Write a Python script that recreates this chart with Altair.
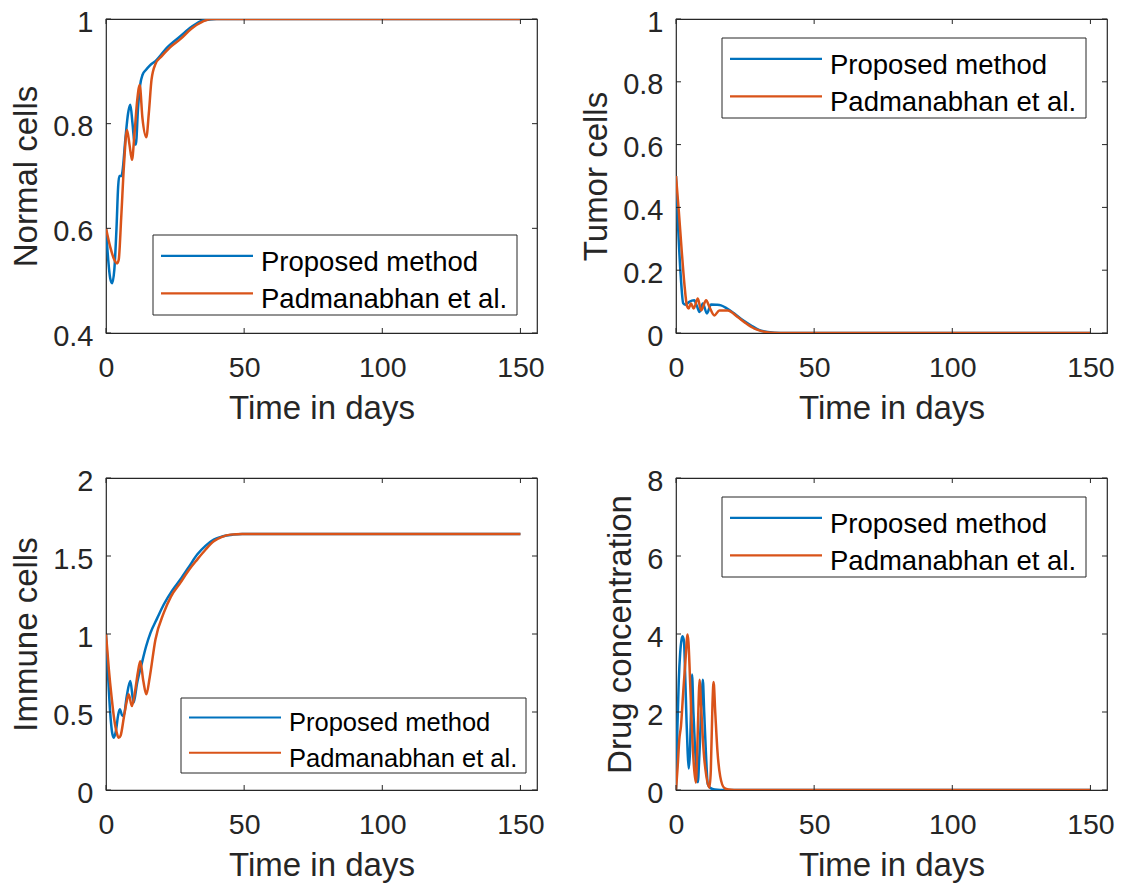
import altair as alt
import pandas as pd

FONT = "Liberation Sans"
AX = "#262626"
SERIES = ["Proposed method", "Padmanabhan et al."]
COLORS = ["#0072BD", "#D95319"]

X_TICKS = [0, 50, 100, 150]
X_DOMAIN = [0, 156]

# ---- Normal cells ----
nb_t = [0, 0.8, 1.5, 2.2, 3.0, 3.8, 4.4, 4.8, 5.6, 6.0, 7.0, 8.0, 8.8, 9.6, 10.4, 10.8, 11.6, 12.4, 13.2, 14.5, 16, 18, 22, 26.9, 31, 35, 40, 150]
nb_v = [0.60, 0.54, 0.505, 0.495, 0.52, 0.60, 0.68, 0.70, 0.70, 0.71, 0.77, 0.82, 0.836, 0.80, 0.76, 0.76, 0.83, 0.875, 0.893, 0.903, 0.912, 0.92, 0.945, 0.967, 0.985, 0.997, 1.0, 1.0]
no_t = [0, 1.5, 3.0, 4.0, 4.6, 5.5, 6.5, 7.6, 8.5, 9.4, 10.3, 11.3, 12.2, 13.2, 14.6, 15.5, 16.5, 17.9, 20, 23, 27, 31, 35, 38, 150]
no_v = [0.60, 0.565, 0.54, 0.533, 0.54, 0.62, 0.72, 0.788, 0.76, 0.731, 0.78, 0.845, 0.874, 0.81, 0.774, 0.82, 0.885, 0.914, 0.928, 0.945, 0.962, 0.982, 0.995, 1.0, 1.0]

# ---- Tumor cells ----
tb_t = [0, 0.8, 1.8, 2.6, 3.5, 4.8, 6.6, 7.6, 8.5, 9.7, 11.2, 12.7, 14.5, 16.3, 18.5, 21.1, 24, 27.2, 30, 33.2, 38, 150]
tb_v = [0.5, 0.33, 0.17, 0.095, 0.09, 0.099, 0.104, 0.085, 0.067, 0.094, 0.062, 0.091, 0.09, 0.088, 0.078, 0.062, 0.042, 0.024, 0.01, 0.003, 0.0, 0.0]
to_t = [0, 1, 2, 3, 4, 4.6, 5.4, 6.4, 7.9, 9.1, 10.9, 12, 13.9, 15.7, 18.7, 22.3, 25, 28.4, 31, 34.4, 40, 150]
to_v = [0.5, 0.39, 0.27, 0.16, 0.085, 0.078, 0.094, 0.078, 0.11, 0.072, 0.104, 0.085, 0.056, 0.072, 0.072, 0.051, 0.033, 0.014, 0.006, 0.001, 0.0, 0.0]

# ---- Immune cells ----
ib_t = [0, 0.7, 1.5, 2.2, 2.8, 3.6, 4.4, 5.0, 5.8, 6.4, 7.5, 8.8, 10, 11.2, 13, 14.5, 16.1, 18.5, 20.9, 24, 26.9, 30, 33, 36, 39, 42, 46, 49.3, 150]
ib_v = [1.0, 0.75, 0.5, 0.37, 0.335, 0.38, 0.48, 0.517, 0.48, 0.474, 0.6, 0.698, 0.559, 0.68, 0.815, 0.92, 1.007, 1.10, 1.189, 1.28, 1.349, 1.43, 1.509, 1.565, 1.605, 1.625, 1.637, 1.641, 1.641]
io_t = [0, 1, 2, 3, 4, 4.6, 5.3, 6.5, 7.4, 8.2, 9.4, 10.5, 11.5, 12.4, 13.5, 14.6, 15.8, 17.9, 20.9, 23.5, 26.9, 30, 33, 36, 39, 42, 45, 49.3, 150]
io_v = [1.0, 0.78, 0.6, 0.45, 0.36, 0.335, 0.35, 0.47, 0.56, 0.613, 0.538, 0.63, 0.75, 0.826, 0.70, 0.613, 0.72, 0.965, 1.135, 1.24, 1.328, 1.41, 1.477, 1.54, 1.594, 1.623, 1.637, 1.641, 1.641]

# ---- Drug concentration ----
db_t = [0, 0.5, 1.0, 1.5, 2.0, 2.4, 2.9, 3.3, 3.8, 4.2, 4.6, 5.0, 5.6, 5.8, 6.3, 6.8, 7.4, 7.9, 8.4, 9.4, 9.7, 10.2, 10.8, 11.5, 12.5, 14, 16, 150]
db_v = [0, 1.6, 2.8, 3.5, 3.85, 3.94, 3.8, 3.0, 1.8, 1.0, 0.55, 0.9, 2.5, 2.96, 2.0, 1.2, 0.5, 0.2, 0.8, 2.5, 2.83, 2.0, 1.0, 0.15, 0.05, 0.01, 0, 0]
do_t = [0, 0.6, 1.2, 1.8, 2.6, 3.4, 4.0, 4.2, 4.5, 5.2, 5.8, 6.5, 7.2, 7.6, 8.2, 8.5, 9.2, 10.0, 11, 12.1, 12.6, 13.2, 13.6, 14.2, 15, 16, 17.5, 19, 21, 150]
do_v = [0, 0.6, 1.3, 1.64, 2.5, 3.3, 3.9, 3.99, 3.8, 2.6, 1.5, 0.6, 0.19, 0.8, 2.3, 2.83, 2.0, 1.0, 0.35, 0.06, 0.5, 2.2, 2.77, 2.0, 1.0, 0.35, 0.05, 0.01, 0, 0]

X_TITLE = "Time in days"

cscale = alt.Scale(domain=SERIES, range=COLORS)


def panel(tb, vb, to, vo, ydom, yticks, ytitle, W, H, leg):
    xscale = alt.Scale(domain=X_DOMAIN, nice=False, zero=False)
    yscale = alt.Scale(domain=ydom, nice=False, zero=False)
    xaxis = alt.Axis(values=X_TICKS, title=X_TITLE, grid=False, domain=False, ticks=False, tickSize=0,
                     labelFontSize=28.5, titleFontSize=33, labelFont=FONT, titleFont=FONT,
                     labelColor=AX, titleColor=AX, titleFontWeight="normal",
                     labelPadding=20, titlePadding=11, labelFlush=False, labelOverlap=False)
    yaxis = alt.Axis(values=yticks, title=ytitle, grid=False, domain=False, ticks=False, tickSize=0,
                     format="~g", labelFontSize=29, titleFontSize=33, labelFont=FONT, titleFont=FONT,
                     labelColor=AX, titleColor=AX, titleFontWeight="normal",
                     labelBaseline="alphabetic", labelOffset=12,
                     labelPadding=13, titlePadding=9, labelFlush=False, labelOverlap=False)
    X = alt.X("t:Q", scale=xscale, axis=xaxis)
    Y = alt.Y("v:Q", scale=yscale, axis=yaxis)
    C = alt.Color("series:N", scale=cscale, legend=None)

    dfb = pd.DataFrame({"t": tb, "v": vb, "series": SERIES[0]})
    dfo = pd.DataFrame({"t": to, "v": vo, "series": SERIES[1]})
    lb = alt.Chart(dfb).mark_line(strokeWidth=2.5, interpolate="monotone", clip=True).encode(x=X, y=Y, color=C)
    lo = alt.Chart(dfo).mark_line(strokeWidth=2.5, interpolate="monotone", clip=True).encode(x=X, y=Y, color=C)

    xt = pd.DataFrame({"t": X_TICKS})
    yt = pd.DataFrame({"v": yticks})
    tk = 5
    t_bot = alt.Chart(xt).mark_rule(color=AX, strokeWidth=1).encode(x=X, y=alt.value(H), y2=alt.value(H - tk))
    t_top = alt.Chart(xt).mark_rule(color=AX, strokeWidth=1).encode(x=X, y=alt.value(0), y2=alt.value(tk))
    t_lft = alt.Chart(yt).mark_rule(color=AX, strokeWidth=1).encode(y=Y, x=alt.value(0), x2=alt.value(tk))
    t_rgt = alt.Chart(yt).mark_rule(color=AX, strokeWidth=1).encode(y=Y, x=alt.value(W), x2=alt.value(W - tk))

    bx, by, bw, bh, fs = leg
    ldf = pd.DataFrame({"series": SERIES})
    box = alt.Chart(ldf.head(1)).mark_rect(fill="white", stroke=AX, strokeWidth=1).encode(
        x=alt.value(bx), x2=alt.value(bx + bw), y=alt.value(by), y2=alt.value(by + bh))
    layers = [lb, lo, t_bot, t_top, t_lft, t_rgt, box]
    row_off = [bh * 0.26, bh * 0.73]
    for i, name in enumerate(SERIES):
        ly = by + row_off[i]
        sub = alt.Chart(ldf).transform_filter(alt.datum.series == name)
        layers.append(sub.mark_rule(strokeWidth=2.2).encode(
            x=alt.value(bx + 8), x2=alt.value(bx + 100), y=alt.value(ly), color=C))
        layers.append(sub.mark_text(align="left", baseline="alphabetic", fontSize=fs, font=FONT, color="black").encode(
            x=alt.value(bx + 108), y=alt.value(ly + fs * 0.54), text="series:N"))
    return alt.layer(*layers).properties(width=W, height=H)


W = 431
p1 = panel(nb_t, nb_v, no_t, no_v, [0.4, 1], [0.4, 0.6, 0.8, 1], "Normal cells", W, 314, (47, 216, 364, 80, 27.5))
p2 = panel(tb_t, tb_v, to_t, to_v, [0, 1], [0, 0.2, 0.4, 0.6, 0.8, 1], "Tumor cells", W, 314, (46, 19, 364, 80, 27.5))
p3 = panel(ib_t, ib_v, io_t, io_v, [0, 2], [0, 0.5, 1, 1.5, 2], "Immune cells", W, 312, (75, 220, 345, 75, 25.5))
p4 = panel(db_t, db_v, do_t, do_v, [0, 8], [0, 2, 4, 6, 8], "Drug concentration", W, 312, (46, 19, 364, 80, 27.5))

chart = alt.concat(p1, p2, p3, p4, columns=2, spacing={"row": 145, "column": 139}, bounds="flush").properties(
    autosize=alt.AutoSizeParams(type="none"),
    padding={"left": 98, "top": 11, "right": 1009, "bottom": 865}
).configure_view(stroke=AX, strokeWidth=1.2)

chart.save("out.html", embed_options={"renderer": "svg", "actions": False})
